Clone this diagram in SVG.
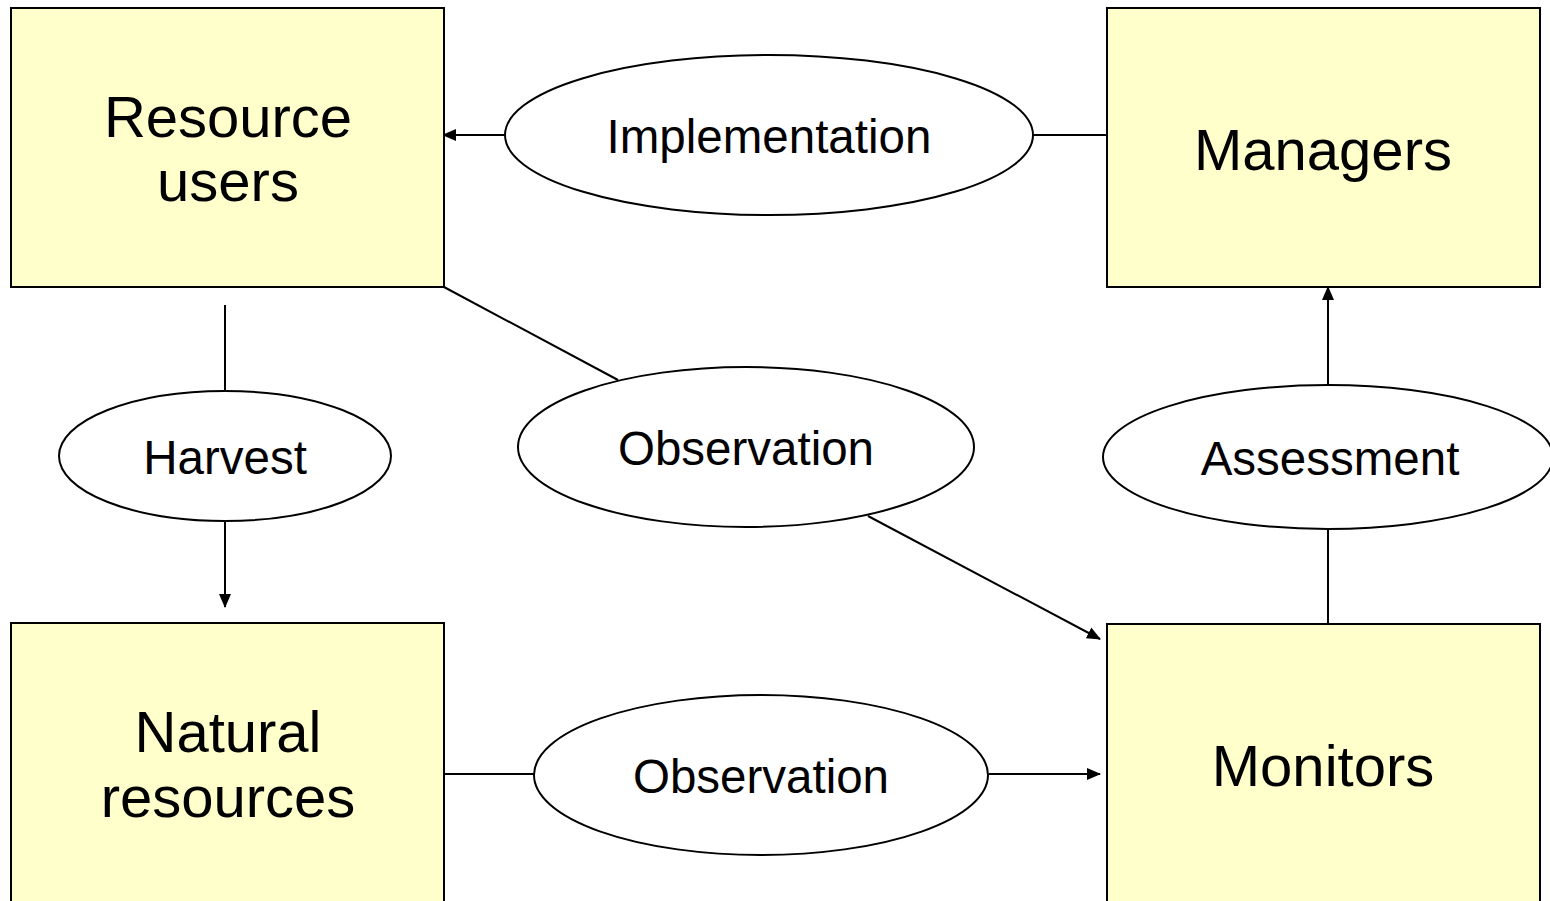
<svg xmlns="http://www.w3.org/2000/svg" width="1550" height="901" viewBox="0 0 1550 901">
<style>
.box{fill:#ffffcc;stroke:#000;stroke-width:2}
.ell{fill:#fff;stroke:#000;stroke-width:2}
.big{font-family:"Liberation Sans",Arial,sans-serif;font-size:58px;fill:#000;text-anchor:middle}
.lbl{font-family:"Liberation Sans",Arial,sans-serif;font-size:47.5px;fill:#000;text-anchor:middle}
.ln{stroke:#000;stroke-width:2;fill:none}
</style>
<defs>
<marker id="ah" markerWidth="14" markerHeight="14" refX="13" refY="7" orient="auto" markerUnits="userSpaceOnUse"><path d="M0,1 L14,7 L0,13 z" fill="#000"/></marker>
</defs>
<rect width="1550" height="901" fill="#fff"/>
<g id="connectors">
<line class="ln" x1="1107" y1="135" x2="1033" y2="135"/>
<line class="ln" x1="505" y1="135" x2="443" y2="135" marker-end="url(#ah)"/>
<line class="ln" x1="225" y1="305" x2="225" y2="391"/>
<line class="ln" x1="225" y1="521" x2="225" y2="607" marker-end="url(#ah)"/>
<line class="ln" x1="444" y1="287" x2="618" y2="380"/>
<line class="ln" x1="868" y1="516" x2="1100" y2="639" marker-end="url(#ah)"/>
<line class="ln" x1="1328" y1="624" x2="1328" y2="529"/>
<line class="ln" x1="1328" y1="385" x2="1328" y2="287" marker-end="url(#ah)"/>
<line class="ln" x1="444" y1="774" x2="534" y2="774"/>
<line class="ln" x1="989" y1="774" x2="1100" y2="774" marker-end="url(#ah)"/>
</g>
<g id="resource-users">
<rect class="box" x="11" y="8" width="433" height="279"/>
<text class="big" x="228" y="137">Resource</text>
<text class="big" x="228" y="201">users</text>
</g>
<g id="managers">
<rect class="box" x="1107" y="8" width="433" height="279"/>
<text class="big" x="1323" y="170">Managers</text>
</g>
<g id="natural-resources">
<rect class="box" x="11" y="623" width="433" height="300"/>
<text class="big" x="228" y="752">Natural</text>
<text class="big" x="228" y="817">resources</text>
</g>
<g id="monitors">
<rect class="box" x="1107" y="624" width="433" height="300"/>
<text class="big" x="1323" y="786">Monitors</text>
</g>
<g id="implementation">
<ellipse class="ell" cx="769" cy="135" rx="264" ry="80"/>
<text class="lbl" x="769" y="153">Implementation</text>
</g>
<g id="harvest">
<ellipse class="ell" cx="225" cy="456" rx="166" ry="65"/>
<text class="lbl" x="225" y="474">Harvest</text>
</g>
<g id="observation-1">
<ellipse class="ell" cx="746" cy="447" rx="228" ry="80"/>
<text class="lbl" x="746" y="465">Observation</text>
</g>
<g id="assessment">
<ellipse class="ell" cx="1328" cy="457" rx="225" ry="72"/>
<text class="lbl" x="1330" y="475">Assessment</text>
</g>
<g id="observation-2">
<ellipse class="ell" cx="761" cy="775" rx="227" ry="80"/>
<text class="lbl" x="761" y="793">Observation</text>
</g>
</svg>
